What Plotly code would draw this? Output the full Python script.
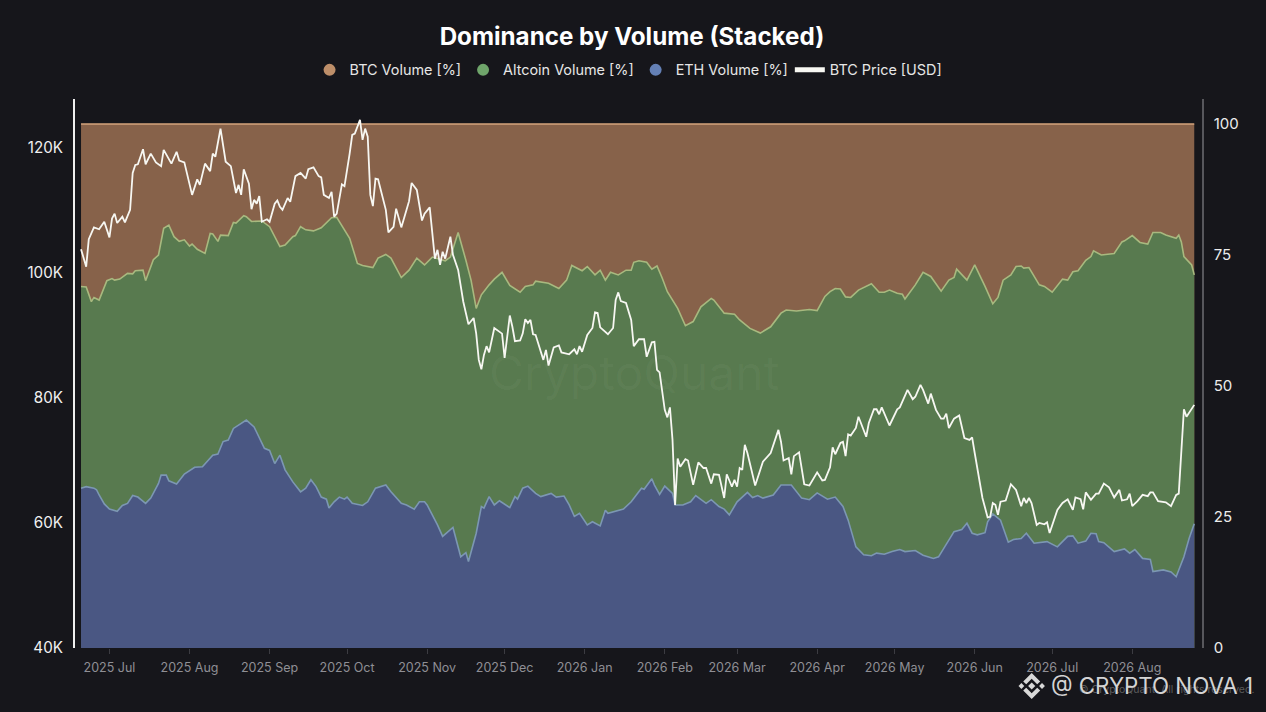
import pandas as pd
import plotly.graph_objects as go

start_date = pd.Timestamp("2025-06-20")

price_day = [0,2,3,5,7,9,11,12,13,14,
16,17,19,20,21,22,24,25,27,29,
31,32,35,37,38,40,43,45,46,48,
50,51,52,54,56,58,60,61,62,63,
65,66,67,68,69,70,72,73,75,76,
77,78,80,81,83,85,87,88,90,92,
93,94,96,97,98,99,101,102,104,105,
106,108,109,110,111,112,113,114,115,118,
119,121,122,124,126,127,128,130,132,133,
135,137,138,139,140,141,143,144,146,147,
148,150,152,153,154,155,156,157,158,160,
163,164,166,167,168,170,171,172,173,174,
175,176,179,180,181,183,185,186,189,191,
192,193,194,196,198,199,200,201,204,206,
207,208,209,211,213,214,216,218,219,221,
222,223,224,226,227,228,229,230,231,232,
234,235,237,239,241,242,244,245,247,249,
250,252,253,254,255,256,257,258,260,261,
264,267,270,271,272,274,275,276,278,280,
282,285,287,288,290,291,292,294,295,296,
297,298,300,301,304,305,307,308,309,310,
313,316,317,320,322,323,325,326,328,329,
331,333,334,335,336,338,340,342,344,345,
346,349,351,352,353,354,355,356,358,
360,362,364,365,366,367,368,370,371,373,
374,375,378,380,382,384,385,387,388,389,
391,393,394,396,398,400,402,403,405,406,
407,409,411,413,414,415,417,420,421,422,
424,425,427,428,431]
price_k = [103.8,101.0,105.4,107.3,107.0,108.2,105.7,108.7,109.5,108.0,
109.0,108.1,110.1,116.0,117.3,117.4,119.8,117.4,119.1,117.7,
117.1,119.7,117.5,119.4,118.0,117.7,112.5,115.0,114.1,117.5,
116.3,119.1,118.6,123.1,117.8,117.1,112.8,114.1,112.5,116.6,
114.3,110.2,111.7,111.1,112.3,108.2,108.6,108.2,111.1,111.6,
110.6,110.1,112.0,111.4,115.5,116.0,115.1,116.6,116.9,115.5,
115.3,112.5,112.0,113.0,109.0,109.5,114.2,113.9,119.1,122.1,
122.3,124.5,121.3,123.1,121.8,112.5,110.7,115.1,115.0,110.1,
106.5,107.4,110.3,107.3,110.1,111.5,114.4,113.3,108.4,109.5,
110.5,102.3,103.7,101.3,103.4,102.3,105.8,102.9,100.5,98.0,
95.4,91.8,92.8,90.3,86.1,84.6,86.9,88.3,87.3,91.2,
90.3,86.4,93.2,91.4,89.1,89.2,90.3,92.6,92.0,92.5,
90.2,90.1,86.1,87.7,85.2,88.1,88.4,87.3,87.0,87.8,
87.0,88.3,87.4,90.1,91.2,93.7,93.6,91.3,90.2,91.2,
95.7,96.9,95.5,95.2,92.5,88.3,89.4,89.4,86.6,88.9,
89.0,84.5,84.1,78.1,76.9,78.5,73.3,62.9,70.3,69.0,
70.2,70.0,66.1,69.7,68.8,68.8,66.3,67.8,67.7,64.0,
67.8,65.8,66.9,65.8,68.8,68.5,72.5,71.2,67.7,66.0,
69.8,71.2,74.9,73.0,70.0,70.4,67.8,70.7,71.3,66.2,
66.0,68.1,66.8,66.9,68.9,72.1,71.0,72.8,73.0,70.7,
74.2,74.0,75.2,77.0,73.8,76.0,78.2,78.2,77.4,78.5,
75.6,78.2,78.5,81.3,79.8,80.2,82.1,81.3,79.1,80.7,
78.1,76.7,76.7,77.5,75.2,76.7,77.2,73.6,73.3,73.7,
71.2,64.0,60.9,61.0,63.2,62.9,61.3,63.4,63.6,
66.2,65.3,62.7,64.0,63.2,64.0,63.2,59.7,60.0,59.8,
60.1,58.4,62.1,63.2,63.8,62.1,64.1,63.8,62.2,64.9,
63.7,64.7,64.7,66.3,65.7,64.1,65.3,63.6,63.8,64.7,
62.7,63.5,64.5,64.3,64.9,64.9,63.5,63.3,63.0,62.7,
64.5,64.7,78.2,77.0,78.9]

alt_day = [0,2,4,5,7,10,12,13,15,18,
20,21,24,25,28,30,32,34,36,38,
40,42,43,45,48,50,51,53,54,57,
59,60,63,64,66,70,73,77,79,82,
83,85,87,90,93,97,99,104,107,109,
113,115,118,120,124,127,130,133,136,141,
143,146,149,151,153,155,158,160,163,166,
170,172,175,176,181,185,188,190,194,196,
199,201,203,205,208,211,213,214,216,219,
221,223,225,227,231,234,237,240,244,245,
249,253,255,259,263,267,271,273,277,282,
285,288,290,292,294,296,298,301,306,309,
311,313,316,318,319,323,326,329,333,336,
338,339,343,346,350,353,355,357,360,362,
364,365,367,371,373,376,380,382,384,386,
389,391,392,395,400,403,404,407,410,413,
415,418,420,424,425,426,427,430,431]
eth_plus_alt_pct = [69.0,68.9,66.1,66.9,66.4,70.1,70.5,70.2,70.4,71.5,
71.4,72.0,72.1,70.1,74.1,75.0,80.1,80.7,78.5,77.6,
77.9,76.7,77.1,76.1,75.3,79.1,79.0,77.6,78.8,78.7,
81.2,81.1,82.5,82.3,81.4,81.5,80.4,76.6,76.9,78.5,
78.7,80.4,79.8,79.6,80.2,82.1,82.2,78.2,73.4,73.0,
72.6,74.4,75.1,74.4,70.7,72.1,74.4,73.1,74.6,73.9,
74.6,79.3,74.0,70.2,64.8,67.4,69.3,70.4,71.7,69.2,
67.9,69.0,69.3,70.0,69.6,68.6,70.2,73.0,72.0,72.8,
71.2,72.1,70.2,71.7,71.2,72.1,72.1,73.6,73.9,73.6,
72.3,72.9,70.6,68.0,64.8,61.5,62.3,65.1,66.7,66.4,
63.9,63.7,62.6,61.0,60.1,61.3,63.9,64.5,64.3,64.6,
64.4,67.1,68.0,68.6,68.5,67.0,66.9,68.3,69.5,67.9,
67.9,68.3,67.7,67.5,66.6,69.3,71.7,70.9,68.1,70.2,
70.7,72.3,70.2,73.1,69.0,65.7,66.9,70.2,71.2,72.8,
72.9,72.5,72.6,69.3,69.0,67.9,70.4,70.2,71.8,72.0,
74.0,74.7,75.8,75.0,75.3,77.5,77.7,78.7,77.4,77.1,
79.3,79.3,78.8,78.2,78.8,77.5,74.7,73.1,71.2]

eth_day = [0,2,5,6,7,9,11,14,16,18,
20,22,25,27,30,31,33,34,37,40,
44,47,51,53,55,57,59,64,67,69,
71,73,75,77,79,82,85,87,89,91,
93,95,96,98,100,102,103,105,109,111,
114,118,120,124,126,129,131,133,134,138,
140,144,147,149,150,153,155,156,158,160,
162,166,168,169,171,173,176,178,182,184,
187,189,191,193,196,198,201,203,204,210,
213,217,218,221,222,224,226,229,230,233,
236,238,240,242,244,247,249,251,254,256,
258,260,262,264,268,271,275,279,282,285,
289,292,295,297,300,303,306,308,311,314,
317,319,323,326,330,332,334,338,341,343,
345,347,350,351,353,356,359,361,364,366,
369,374,378,382,384,386,389,391,393,394,
396,400,404,406,408,411,414,415,419,422,
424,427,429,431]
eth_pct = [30.5,30.8,30.5,30.2,29.2,27.5,26.5,26.1,27.2,27.6,
29.1,28.8,27.6,28.6,31.4,33.0,33.0,31.9,31.3,33.2,
34.5,34.6,36.8,37.0,39.4,39.7,41.9,43.5,42.2,40.3,
38.1,37.7,35.2,36.8,34.0,31.7,29.8,30.5,32.1,30.8,
28.8,28.4,26.7,27.9,28.8,28.4,28.8,27.6,27.2,27.9,
30.5,31.1,29.8,27.6,27.3,26.5,27.9,27.9,27.3,23.5,
21.3,23.0,17.4,18.2,16.5,21.9,27.0,26.7,28.9,27.3,
28.1,26.8,28.9,28.4,30.5,30.9,29.5,28.9,29.5,28.8,
29.0,27.3,25.1,25.7,23.5,24.1,23.3,26.3,25.7,26.5,
27.9,30.5,30.3,32.3,31.1,29.3,30.9,29.5,27.3,27.3,
27.9,29.1,28.4,27.6,28.3,27.0,26.5,25.4,27.9,28.8,
29.7,28.7,29.1,28.6,29.2,31.1,31.1,28.6,28.3,29.6,
28.4,28.8,27.0,24.4,19.3,17.8,17.6,18.1,17.9,18.4,
18.8,18.4,18.6,17.7,17.1,17.4,19.0,22.2,22.6,23.8,
21.9,21.6,22.0,24.1,25.6,24.4,20.2,20.7,20.9,21.9,
20.0,20.3,19.3,21.3,21.4,20.0,20.4,21.9,21.8,20.3,
20.1,18.4,18.9,18.1,18.8,17.1,16.9,14.6,14.9,14.5,
13.6,17.4,20.9,23.7]

btc_day = [0, 431]
stack_total_pct = [100, 100]

month_ticks = ["2025-07-01","2025-08-01","2025-09-01","2025-10-01","2025-11-01","2025-12-01",
               "2026-01-01","2026-02-01","2026-03-01","2026-04-01","2026-05-01","2026-06-01",
               "2026-07-01","2026-08-01"]
month_labels = ["2025 Jul","2025 Aug","2025 Sep","2025 Oct","2025 Nov","2025 Dec","2026 Jan",
                "2026 Feb","2026 Mar","2026 Apr","2026 May","2026 Jun","2026 Jul","2026 Aug"]
price_ticks = [40, 60, 80, 100, 120]
price_labels = ["40K", "60K", "80K", "100K", "120K"]
pct_ticks = [0, 25, 50, 75, 100]

BG = "#16161b"
FONT = "Inter"


def dates(days):
    return [start_date + pd.Timedelta(days=d) for d in days]


fig = go.Figure()


def area(days, vals, name, fill, line):
    fig.add_trace(go.Scatter(x=dates(days), y=vals, mode="lines", name=name, showlegend=False,
                             fill="tozeroy", fillcolor=fill,
                             line=dict(color=line, width=1.6), yaxis="y"))


area(btc_day, stack_total_pct, "BTC Volume [%]", "#87624a", "#d5a47d")
area(alt_day, eth_plus_alt_pct, "Altcoin Volume [%]", "#587a4f", "#a8b97f")
area(eth_day, eth_pct, "ETH Volume [%]", "#4a5783", "#7c97b3")

for name, col in [("BTC Volume [%]", "#bd8e69"), ("Altcoin Volume [%]", "#6fa56b"), ("ETH Volume [%]", "#6480b5")]:
    fig.add_trace(go.Scatter(x=[None], y=[None], mode="markers", name=name,
                             marker=dict(color=col, size=16), yaxis="y"))

fig.add_trace(go.Scatter(x=dates(price_day), y=[v * 1000 for v in price_k], mode="lines",
                         name="BTC Price [USD]", line=dict(color="#f7f7f2", width=1.8), yaxis="y2"))

chevron = "M-8.5,4.5 L0,13 L8.5,4.5 L5.5,1.8 L0,7.3 L-5.5,1.8 Z"
chevron2 = "M-8.5,-4.5 L0,-13 L8.5,-4.5 L5.5,-1.8 L0,-7.3 L-5.5,-1.8 Z"
dia = lambda cx, r: f"M{cx-r},0 L{cx},{r} L{cx+r},0 L{cx},{-r} Z"
logo_shapes = [dict(type="path", xref="paper", yref="paper", xsizemode="pixel", ysizemode="pixel",
                    xanchor=0.8489, yanchor=-0.0692, path=p, fillcolor="#d8d8d8",
                    line=dict(width=0), layer="above")
               for p in [chevron, chevron2, dia(0, 3.6), dia(-10.3, 2.9), dia(10.3, 2.9)]]

fig.update_layout(
    width=1266, height=712,
    margin=dict(l=75, r=64, t=99, b=64, autoexpand=False),
    paper_bgcolor=BG, plot_bgcolor=BG,
    title=dict(text="Dominance by Volume (Stacked)", x=0.4992, xanchor="center", y=0.949, yanchor="middle",
               font=dict(family=FONT, size=24.2, color="#ffffff", weight=700)),
    legend=dict(orientation="h", x=0.4925, xanchor="center", y=1.0528, yanchor="middle",
                font=dict(family=FONT, size=14.4, color="#e6e6e6"), bgcolor="rgba(0,0,0,0)",
                itemsizing="constant", traceorder="normal", indentation=-3),
    showlegend=True,
    xaxis=dict(type="date", range=["2025-06-17 16:00", "2026-08-28"], tickmode="array",
               tickvals=month_ticks, ticktext=month_labels, showgrid=False, zeroline=False,
               ticks="outside", ticklen=5, tickcolor="#3c3c42", tickwidth=1, ticklabelstandoff=3,
               tickfont=dict(family=FONT, size=12.5, color="#8f8f95"), showline=False),
    yaxis=dict(side="right", range=[0, 104.77], tickmode="array", tickvals=pct_ticks,
               showgrid=False, zeroline=False, showline=True, linecolor="#57575c", linewidth=1.5,
               ticks="", ticklabelstandoff=7, tickfont=dict(family=FONT, size=15, color="#ececec")),
    yaxis2=dict(side="left", overlaying="y", range=[40000, 127840], tickmode="array", tickvals=[v * 1000 for v in price_ticks],
                ticktext=price_labels, showgrid=False, zeroline=False, showline=True, linecolor="#efefef", linewidth=2,
                ticks="", ticklabelstandoff=7, tickfont=dict(family=FONT, size=15.2, color="#f0f0f0")),
    shapes=logo_shapes,
    annotations=[
        dict(text="CryptoQuant", xref="paper", yref="paper", x=0.496, y=0.5027, showarrow=False,
             font=dict(family=FONT, size=48, color="rgba(255,255,255,0.035)")),
        dict(text="© CryptoQuant. All rights reserved.", xref="paper", yref="paper", x=0.889, y=-0.0765,
             xanchor="left", yanchor="middle", showarrow=False,
             font=dict(family=FONT, size=10.5, color="rgba(150,150,150,0.55)")),
        dict(text="@ CRYPTO NOVA 1", xref="paper", yref="paper", x=0.8643, y=-0.0674,
             xanchor="left", yanchor="middle", showarrow=False,
             font=dict(family=FONT, size=22.3, color="#d4d4d4")),
    ],
)

fig.write_html("out.html", config={"displayModeBar": False},
               post_script="document.body.style.margin='0';document.body.style.background='#16161b';")
